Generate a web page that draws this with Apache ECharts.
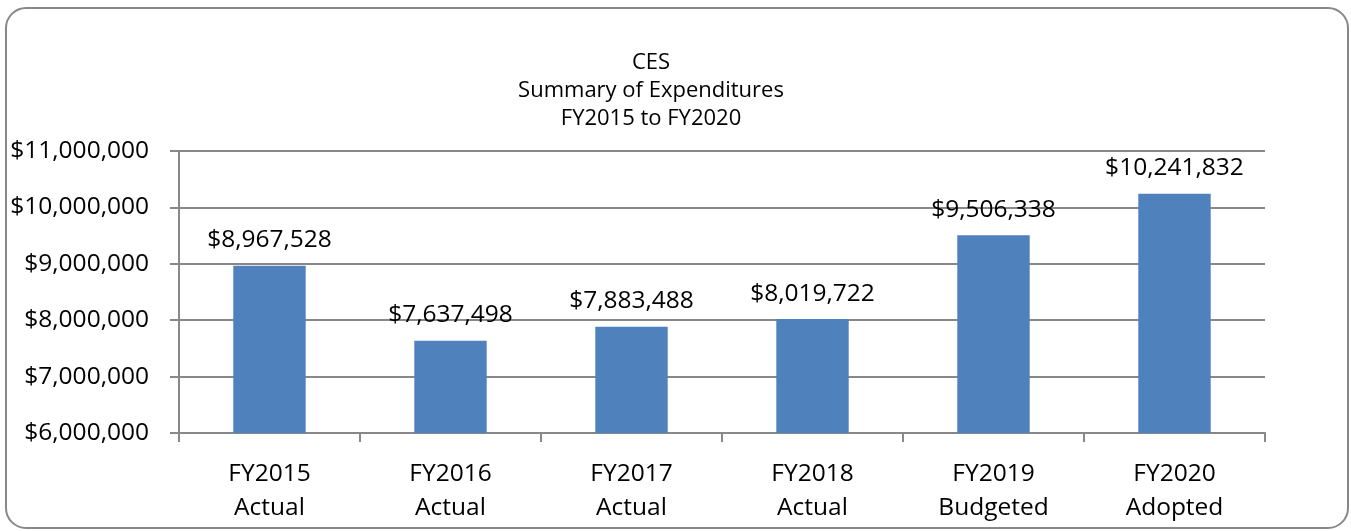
<!DOCTYPE html>
<html>
<head>
<meta charset="utf-8">
<script src="https://cdn.jsdelivr.net/npm/echarts@6/dist/echarts.min.js"></script>
<style>
  html, body { margin: 0; padding: 0; background: #fff; }
  #chart { width: 1351px; height: 531px; }
</style>
</head>
<body>
<div id="chart"></div>
<script>
var categories = ['FY2015\nActual', 'FY2016\nActual', 'FY2017\nActual', 'FY2018\nActual', 'FY2019\nBudgeted', 'FY2020\nAdopted']
var expenditures = [8967528, 7637498, 7883488, 8019722, 9506338, 10241832]
var titleLines = ['CES', 'Summary of Expenditures', 'FY2015 to FY2020']

function money (v) {
  return '$' + Number(v).toLocaleString('en-US')
}

var chart = echarts.init(document.getElementById('chart'))
chart.setOption({
  animation: false,
  textStyle: { fontFamily: 'Open Sans' },
  graphic: [
    {
      type: 'rect',
      shape: { x: 6, y: 8, width: 1342, height: 520, r: 20 },
      style: { fill: 'none', stroke: '#888', lineWidth: 2 },
      silent: true
    }
  ],
  title: {
    text: titleLines.join('\n'),
    left: 646,
    textAlign: 'center',
    top: 44,
    textStyle: {
      fontFamily: 'Open Sans',
      fontWeight: 'normal',
      fontSize: 22,
      lineHeight: 28,
      color: '#000'
    }
  },
  grid: {
    left: 179,
    right: 86,
    top: 151,
    bottom: 98
  },
  xAxis: {
    type: 'category',
    data: categories,
    axisLine: { lineStyle: { color: '#888', width: 2 } },
    axisTick: { show: true, length: 9, lineStyle: { color: '#888', width: 2 } },
    axisLabel: {
      color: '#000',
      fontSize: 24.5,
      lineHeight: 34,
      margin: 24
    }
  },
  yAxis: {
    type: 'value',
    min: 6000000,
    max: 11000000,
    interval: 1000000,
    axisLine: { show: true, lineStyle: { color: '#888', width: 2 } },
    axisTick: { show: true, length: 9, lineStyle: { color: '#888', width: 2 } },
    splitLine: { lineStyle: { color: '#888', width: 2 } },
    axisLabel: {
      color: '#000',
      fontSize: 24.5,
      margin: 30,
      formatter: money
    }
  },
  series: [
    {
      type: 'bar',
      data: expenditures,
      barWidth: '40%',
      itemStyle: { color: '#4F81BD' },
      label: {
        show: true,
        position: 'top',
        distance: 13,
        color: '#000',
        fontSize: 24.5,
        formatter: function (p) {
          return money(p.value)
        }
      }
    }
  ]
})
</script>
</body>
</html>
